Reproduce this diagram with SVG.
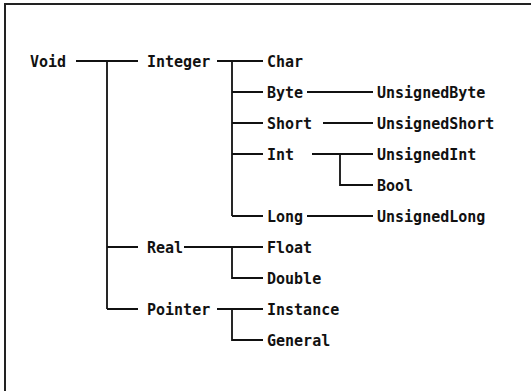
<svg xmlns="http://www.w3.org/2000/svg" width="531" height="391" viewBox="0 0 531 391">
<style>
text{font-family:"DejaVu Sans Mono","Liberation Mono",monospace;font-size:15px;font-weight:bold;fill:#111}
.c{stroke:#111;stroke-width:1.8;fill:none}
.f{stroke:#222;stroke-width:2;fill:none}
</style>
<rect width="531" height="391" fill="#fff"/>
<path class="f" d="M5,391 V4 H531"/>
<g id="connectors">
<path class="c" d="M76,61 H138 M107,61 V309 M107,247 H138 M107,309 H138"/>
<path class="c" d="M217,61 H263 M232,61 V216 M232,92 H263 M232,123 H263 M232,154 H263 M232,216 H263"/>
<path class="c" d="M184,247 H263 M232,247 V278 H263"/>
<path class="c" d="M217,309 H263 M232,309 V340 H263"/>
<path class="c" d="M307,92 H373 M323,123 H373 M312,154 H373 M340,154 V185 H373 M307,216 H373"/>
</g>
<g id="Void"><text x="30" y="66.5">Void</text></g>
<g id="Integer"><text x="147" y="66.5">Integer</text></g>
<g id="Real"><text x="147" y="252.5">Real</text></g>
<g id="Pointer"><text x="147" y="314.5">Pointer</text></g>
<g id="Char"><text x="267" y="66.5">Char</text></g>
<g id="Byte"><text x="267" y="97.5">Byte</text></g>
<g id="Short"><text x="267" y="128.5">Short</text></g>
<g id="Int"><text x="267" y="159.5">Int</text></g>
<g id="Long"><text x="267" y="221.5">Long</text></g>
<g id="Float"><text x="267" y="252.5">Float</text></g>
<g id="Double"><text x="267" y="283.5">Double</text></g>
<g id="Instance"><text x="267" y="314.5">Instance</text></g>
<g id="General"><text x="267" y="345.5">General</text></g>
<g id="UnsignedByte"><text x="377" y="97.5">UnsignedByte</text></g>
<g id="UnsignedShort"><text x="377" y="128.5">UnsignedShort</text></g>
<g id="UnsignedInt"><text x="377" y="159.5">UnsignedInt</text></g>
<g id="Bool"><text x="377" y="190.5">Bool</text></g>
<g id="UnsignedLong"><text x="377" y="221.5">UnsignedLong</text></g>
</svg>
